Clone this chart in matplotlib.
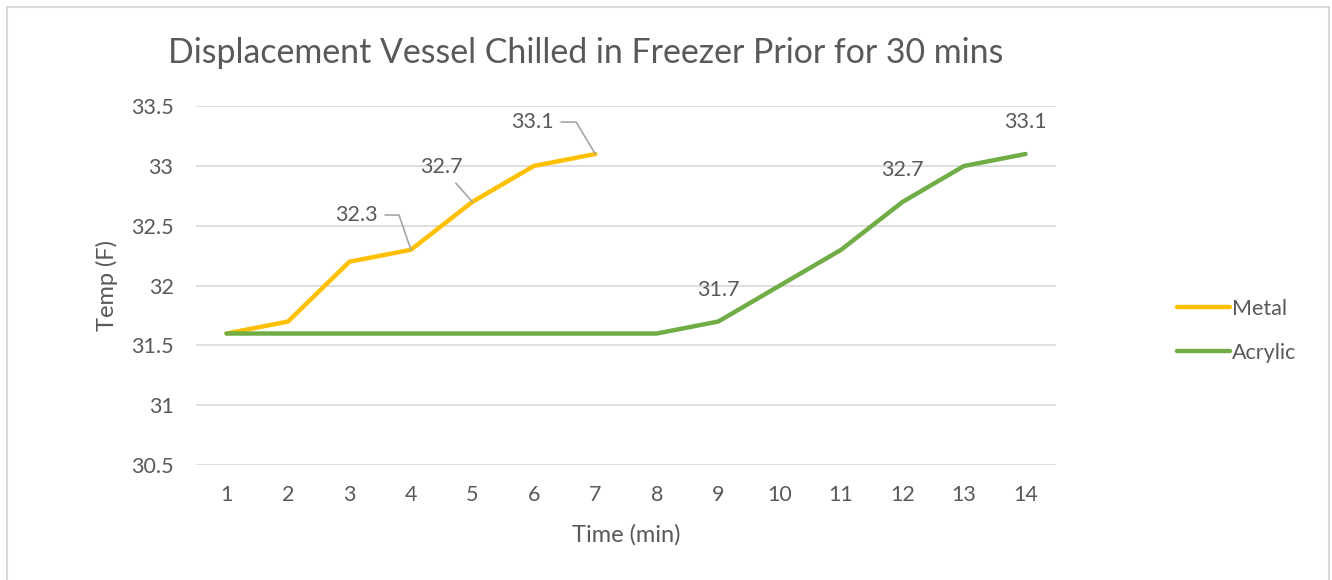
import numpy as np
import matplotlib.pyplot as plt

plt.rcParams['font.family'] = ['Lato', 'DejaVu Sans']

# data
times = list(range(1, 15))
metal = [31.6, 31.7, 32.2, 32.3, 32.7, 33.0, 33.1]
acrylic = [31.6, 31.6, 31.6, 31.6, 31.6, 31.6, 31.6, 31.6, 31.7, 32.0, 32.3, 32.7, 33.0, 33.1]
yticks = [30.5, 31, 31.5, 32, 32.5, 33, 33.5]

text_col = '#595959'
grid_col = '#D9D9D9'
metal_col = '#FFC000'
acrylic_col = '#70AD47'

fig = plt.figure(figsize=(13.32, 5.8), dpi=100)
ax = fig.add_axes([0.147, 0.198, 0.646, 0.619])

ax.plot(times[:len(metal)], metal, color=metal_col, lw=3.2, solid_capstyle='round',
        solid_joinstyle='round', label='Metal')
ax.plot(times, acrylic, color=acrylic_col, lw=3.2, solid_capstyle='round',
        solid_joinstyle='round', label='Acrylic')

ax.set_xlim(0.5, 14.5)
ax.set_ylim(30.5, 33.5)
ax.set_xticks(times)
ax.set_yticks(yticks)
ax.set_yticklabels([f'{v:g}' for v in yticks])
ax.yaxis.grid(True, color=grid_col, lw=1.2)
ax.set_axisbelow(True)
for s in ax.spines.values():
    s.set_visible(False)
ax.tick_params(length=0, labelsize=15.5, colors=text_col, pad=14)
ax.tick_params(axis='y', pad=16)

ax.set_xlabel('Time (min)', fontsize=17, color=text_col, labelpad=14)
ax.set_ylabel('Temp (F)', fontsize=17, color=text_col, labelpad=9)
fig.text(0.44, 0.908, 'Displacement Vessel Chilled in Freezer Prior for 30 mins',
         ha='center', va='center', fontsize=24.4, color=text_col)

# data labels with leader lines (metal)
fs = 15.5
lead = dict(arrowstyle='-', color='#A6A6A6', lw=1.2, shrinkA=3, shrinkB=0)
ax.annotate(f'{metal[3]:g}', xy=(4, metal[3]), xytext=(-39, 25), textcoords='offset points',
            ha='center', va='center', fontsize=fs, color=text_col,
            arrowprops=dict(lead, connectionstyle='angle,angleA=0,angleB=109,rad=0'))
ax.annotate(f'{metal[4]:g}', xy=(5, metal[4]), xytext=(-22, 25), textcoords='offset points',
            ha='center', va='center', fontsize=fs, color=text_col,
            arrowprops=dict(lead))
ax.annotate(f'{metal[6]:g}', xy=(7, metal[6]), xytext=(-45, 23), textcoords='offset points',
            ha='center', va='center', fontsize=fs, color=text_col,
            arrowprops=dict(lead, connectionstyle='angle,angleA=0,angleB=121,rad=0'))

# acrylic labels
for i in [8, 11, 13]:
    ax.annotate(f'{acrylic[i]:g}', xy=(times[i], acrylic[i]), xytext=(0, 23),
                textcoords='offset points', ha='center', va='center',
                fontsize=fs, color=text_col)

fig.legend(loc='center left', bbox_to_anchor=(0.869, 0.43), frameon=False,
           fontsize=15.5, labelcolor=text_col, handlelength=2.45, handletextpad=0.1,
           labelspacing=1.12)

# outer chart border (left, top, right)
bx0, bx1, by1 = 7 / 1332, 1329 / 1332, 1 - 7 / 580
fig.add_artist(plt.Line2D([bx0, bx0, bx1, bx1], [0, by1, by1, 0], transform=fig.transFigure,
                          color=grid_col, lw=1.5))

fig.savefig('out.png', dpi=100)
